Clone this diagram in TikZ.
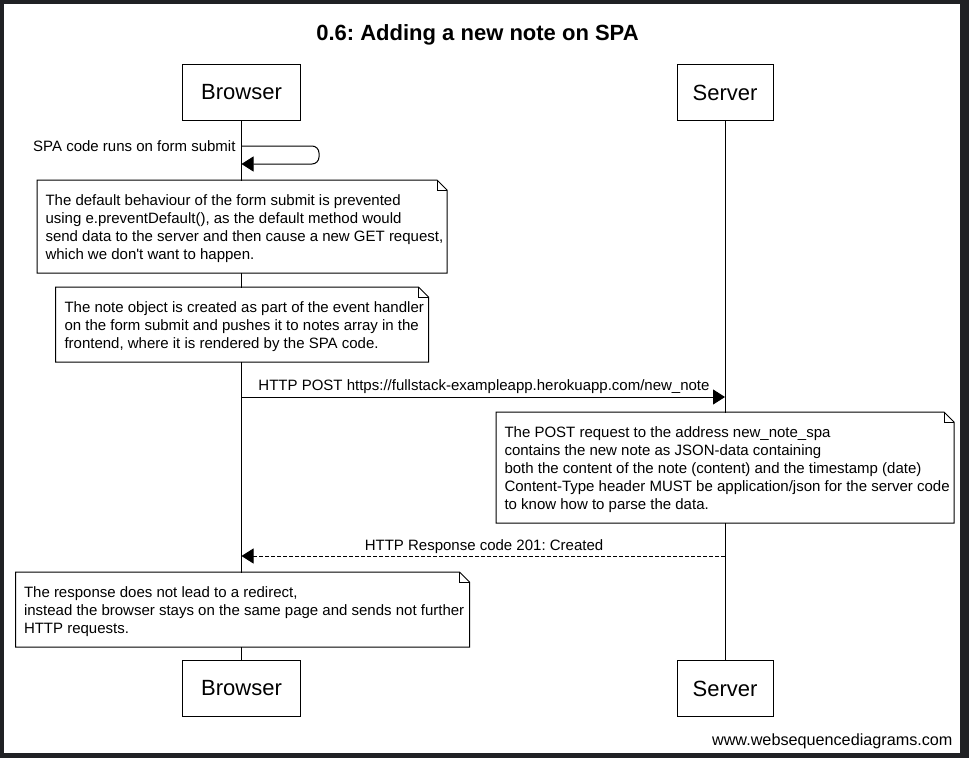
\documentclass[tikz,border=0pt]{standalone}
\usepackage{fontspec}
\setmainfont{Liberation Sans}
\usetikzlibrary{arrows.meta,calc}
\definecolor{framegray}{RGB}{32,33,36}
\frenchspacing
\begin{document}
\begin{tikzpicture}[x=1pt,y=-1pt,
  line width=1pt,
  actor/.style={draw, fill=white, inner sep=0pt, minimum height=56pt, font=\fontsize{22}{26}\selectfont},
  noteframe/.style={fill=white, draw=none, inner sep=0pt, anchor=north west},
  noteline/.style={draw=black, line width=1pt, line join=miter},
  notetext/.style={align=left, inner sep=0pt, anchor=base west, font=\fontsize{15}{18}\selectfont},
  msgtext/.style={inner sep=0pt, font=\fontsize{15}{18}\selectfont},
  msg/.style={-{Triangle[length=12pt,width=15pt]}},
  reply/.style={-{Triangle[length=12pt,width=15pt]}, dash pattern=on 4pt off 2pt}
]
\useasboundingbox (0,0) rectangle (969,758);
\fill[framegray] (0,0) rectangle (969,758);
\fill[white] (4,4) rectangle (959.5,752.5);

% title
\node[inner sep=0pt, anchor=base, font=\bfseries\fontsize{22}{26}\selectfont] (title) at (477.5,40.5) {0.6: Adding a new note on SPA};

% actors
\node[actor, minimum width=118pt] (bt) at (241.5,92.5) {Browser};
\node[actor, minimum width=96pt] (st) at (725,92.5) {Server};
\node[actor, minimum width=118pt] (bb) at (241.5,688.5) {Browser};
\node[actor, minimum width=96pt] (sb) at (725,688.5) {Server};

% lifelines
\draw (bt.south) -- (bb.north);
\draw (st.south) -- (sb.north);

% self message
\coordinate (s1) at (241.5,146);
\coordinate (s2) at (241.5,164);
\draw[msg, rounded corners=7pt] (s1) -- (319,146) -- (319,164) -- (s2);
\node[msgtext, anchor=east] (sl) at (236,146) {SPA code runs on form submit};

% note 1
\node[noteframe, minimum width=409pt, minimum height=92pt] (n1) at (37,180) {};
\draw[noteline] (n1.north west) -- ($(n1.north east)+(-10,0)$) -- ($(n1.north east)+(0,10)$) -- (n1.south east) -- (n1.south west) -- cycle;
\draw[noteline] ($(n1.north east)+(-10,0)$) -- ($(n1.north east)+(-10,10)$) -- ($(n1.north east)+(0,10)$);
\node[notetext] (n1t) at (45,259) {The default behaviour of the form submit is prevented\\using e.preventDefault(), as the default method would\\send data to the server and then cause a new GET request,\\which we don\textquotesingle t want to happen.};

% note 2
\node[noteframe, minimum width=372pt, minimum height=74pt] (n2) at (55.5,287) {};
\draw[noteline] (n2.north west) -- ($(n2.north east)+(-10,0)$) -- ($(n2.north east)+(0,10)$) -- (n2.south east) -- (n2.south west) -- cycle;
\draw[noteline] ($(n2.north east)+(-10,0)$) -- ($(n2.north east)+(-10,10)$) -- ($(n2.north east)+(0,10)$);
\node[notetext] (n2t) at (64,348) {The note object is created as part of the event handler\\on the form submit and pushes it to notes array in the\\frontend, where it is rendered by the SPA code.};

% POST
\coordinate (p1) at (241.5,397);
\coordinate (p2) at (725,397);
\draw[msg] (p1) -- (p2);
\node[msgtext, anchor=base] (pl) at (484,390) {HTTP POST https://fullstack-exampleapp.herokuapp.com/new\_note};

% note 3
\node[noteframe, minimum width=457pt, minimum height=110pt] (n3) at (496,412) {};
\draw[noteline] (n3.north west) -- ($(n3.north east)+(-10,0)$) -- ($(n3.north east)+(0,10)$) -- (n3.south east) -- (n3.south west) -- cycle;
\draw[noteline] ($(n3.north east)+(-10,0)$) -- ($(n3.north east)+(-10,10)$) -- ($(n3.north east)+(0,10)$);
\node[notetext] (n3t) at (504,509) {The POST request to the address new\_note\_spa\\contains the new note as JSON-data containing\\both the content of the note (content) and the timestamp (date)\\Content-Type header MUST be application/json for the server code\\to know how to parse the data.};

% response
\coordinate (r1) at (725,556);
\coordinate (r2) at (241.5,556);
\draw[reply] (r1) -- (r2);
\node[msgtext, anchor=base] (rl) at (484,550.5) {HTTP Response code 201: Created};

% note 4
\node[noteframe, minimum width=453pt, minimum height=74pt] (n4) at (15.5,572) {};
\draw[noteline] (n4.north west) -- ($(n4.north east)+(-10,0)$) -- ($(n4.north east)+(0,10)$) -- (n4.south east) -- (n4.south west) -- cycle;
\draw[noteline] ($(n4.north east)+(-10,0)$) -- ($(n4.north east)+(-10,10)$) -- ($(n4.north east)+(0,10)$);
\node[notetext] (n4t) at (23.5,633) {The response does not lead to a redirect,\\instead the browser stays on the same page and sends not further\\HTTP requests.};

% watermark
\node[inner sep=0pt, anchor=base east, font=\fontsize{16.2}{18}\selectfont] (wm) at (953,745) {www.websequencediagrams.com};
\end{tikzpicture}
\end{document}
